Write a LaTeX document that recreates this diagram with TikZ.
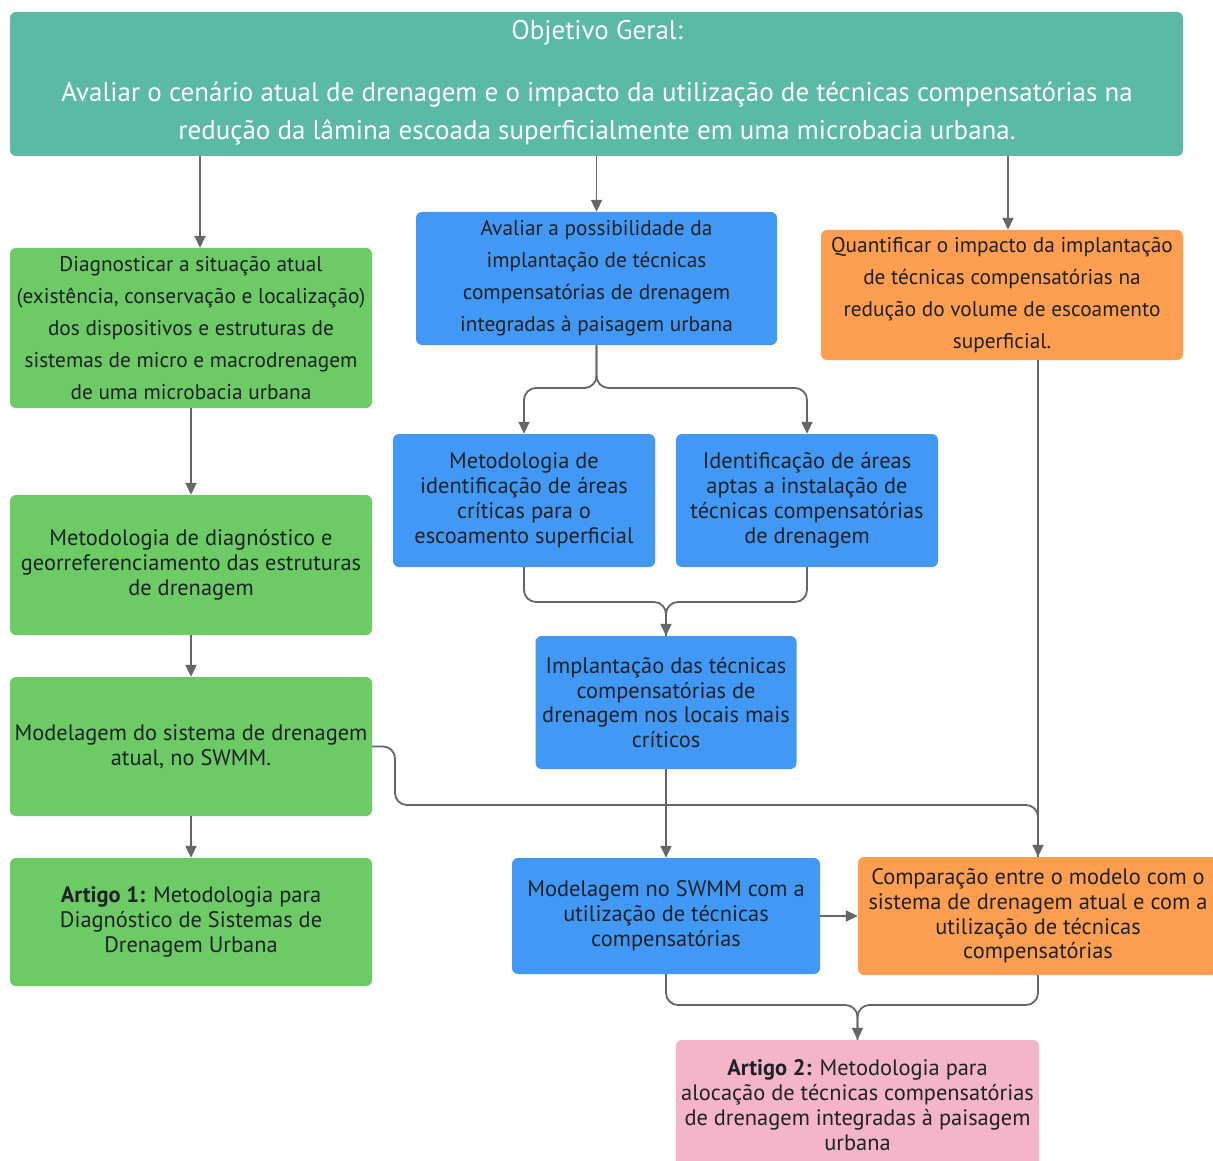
\documentclass[tikz,border=0pt]{standalone}
\usepackage{fontspec}
\setmainfont{PT Sans}
\usetikzlibrary{arrows.meta}
\definecolor{cteal}{HTML}{5BBAA6}
\definecolor{cgreen}{HTML}{6CCB64}
\definecolor{cblue}{HTML}{4199F5}
\definecolor{corange}{HTML}{FD9E50}
\definecolor{cpink}{HTML}{F4B5C8}
\definecolor{cline}{HTML}{666666}
\definecolor{ctext}{HTML}{1E2228}
\begin{document}
\begin{tikzpicture}[x=1pt,y=-1pt,
  box/.style={rounded corners=6pt, inner sep=0pt, align=center, text=ctext},
  wide/.style={font=\fontsize{21.3}{32}\selectfont},
  tight/.style={font=\fontsize{22.4}{24.8}\selectfont},
  conn/.style={draw=cline, line width=1.8pt, rounded corners=12pt},
  arr/.style={-{Triangle[width=11pt,length=12pt]}}]
\fill[white] (0,0) rectangle (1213,1161);
\useasboundingbox (0,0) rectangle (1213,1161);

% top box
\node[box, fill=cteal, minimum width=1173, minimum height=144] (top) at (596.5,84) {};
\node[text=white, font=\fontsize{27}{30}\selectfont, inner sep=0pt] (title) at (597,33) {Objetivo Geral:};
\node[text=white, font=\fontsize{27}{38}\selectfont, align=center, inner sep=0pt] (goal) at (597,114)
  {Avaliar o cenário atual de drenagem e o impacto da utilização de técnicas compensatórias na\\
   redução da lâmina escoada superficialmente em uma microbacia urbana.};

% green column
\node[box, wide, fill=cgreen, minimum width=362, minimum height=160] (g1) at (191,328)
  {Diagnosticar a situação atual\\(existência, conservação e localização)\\dos dispositivos e estruturas de\\sistemas de micro e macrodrenagem\\de uma microbacia urbana};
\node[box, tight, fill=cgreen, minimum width=362, minimum height=140] (g2) at (191,565)
  {Metodologia de diagnóstico e\\georreferenciamento das estruturas\\de drenagem};
\node[box, tight, fill=cgreen, minimum width=362, minimum height=139] (g3) at (191,746.5)
  {Modelagem do sistema de drenagem\\atual, no SWMM.};
\node[box, tight, fill=cgreen, minimum width=362, minimum height=128] (g4) at (191,922)
  {\textbf{Artigo 1:} Metodologia para\\Diagnóstico de Sistemas de\\Drenagem Urbana};

% blue column
\node[box, wide, fill=cblue, minimum width=361, minimum height=133] (b1) at (596.5,278.5)
  {Avaliar a possibilidade da\\implantação de técnicas\\compensatórias de drenagem\\integradas à paisagem urbana};
\node[box, tight, fill=cblue, minimum width=262, minimum height=133] (b2) at (524,500.5)
  {Metodologia de\\identificação de áreas\\críticas para o\\escoamento superficial};
\node[box, tight, fill=cblue, minimum width=262, minimum height=133] (b3) at (807,500.5)
  {Identificação de áreas\\aptas a instalação de\\técnicas compensatórias\\de drenagem};
\node[box, tight, fill=cblue, minimum width=261, minimum height=133] (b4) at (666,702.5)
  {Implantação das técnicas\\compensatórias de\\drenagem nos locais mais\\críticos};
\node[box, tight, fill=cblue, minimum width=308, minimum height=116] (b5) at (666,916)
  {Modelagem no SWMM com a\\utilização de técnicas\\compensatórias};

% orange
\node[box, wide, fill=corange, minimum width=362, minimum height=130] (o1) at (1002,295)
  {Quantificar o impacto da implantação\\de técnicas compensatórias na\\redução do volume de escoamento\\superficial.};
\node[box, tight, fill=corange, minimum width=360, minimum height=118] (o2) at (1038,916)
  {Comparação entre o modelo com o\\sistema de drenagem atual e com a\\utilização de técnicas\\compensatórias};

% pink
\node[box, tight, fill=cpink, minimum width=363, minimum height=130] (pk) at (857.5,1105)
  {\textbf{Artigo 2:} Metodologia para\\alocação de técnicas compensatórias\\de drenagem integradas à paisagem\\urbana};

% helper coordinates
\coordinate (xg) at (200,0);
\coordinate (xo) at (1008,0);
\coordinate (sy) at (0,388);
\coordinate (jy2) at (0,602);
\coordinate (kA) at (395,805);
\coordinate (jy) at (0,1005);

% connectors
\draw[conn, arr] (top.south -| xg) -- (g1.north -| xg);
\draw[conn, arr] (top.south -| b1.north) -- (b1.north);
\draw[conn, arr] (top.south -| xo) -- (o1.north -| xo);

\draw[conn, arr] (g1.south) -- (g2.north);
\draw[conn, arr] (g2.south) -- (g3.north);
\draw[conn, arr] (g3.south) -- (g4.north);

\draw[conn, arr] (b1.south) |- (b2.north |- sy) -- (b2.north);
\draw[conn, arr] (b1.south) |- (b3.north |- sy) -- (b3.north);

\draw[conn, arr] (b2.south) |- (b4.north |- jy2) -- (b4.north);
\draw[conn] (b3.south) |- (b4.north |- jy2) -- (b4.north);

\draw[conn, arr] (b4.south) -- (b5.north);

\draw[conn] (g3.east) -| (kA) -| (o2.north);
\draw[conn, arr] (o1.south -| o2.north) -- (o2.north);

\draw[conn, arr] (b5.east) -- (o2.west);

\draw[conn, arr] (b5.south) |- (pk.north |- jy) -- (pk.north);
\draw[conn] (o2.south) |- (pk.north |- jy) -- (pk.north);
\end{tikzpicture}
\end{document}
